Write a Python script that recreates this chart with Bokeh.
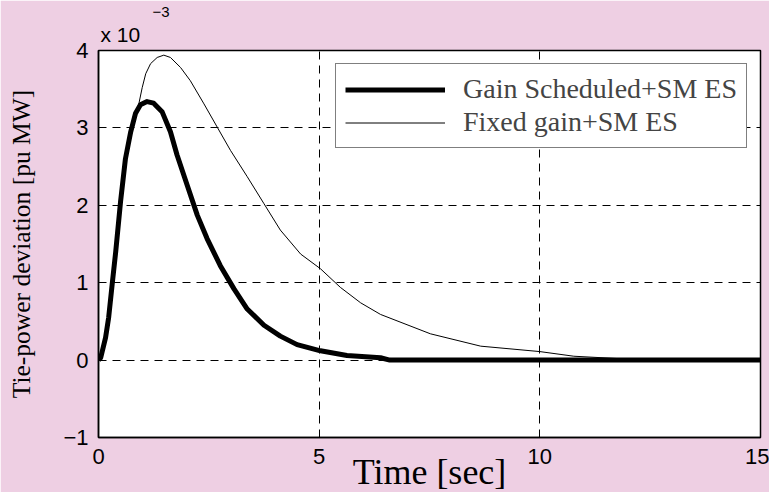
from bokeh.plotting import figure
from bokeh.models import Legend, LegendItem, FixedTicker, Title
from bokeh.embed import file_html
from bokeh.resources import INLINE

# Time [sec] and tie-power deviation (x 10^-3 pu MW)
t_gain = [0.0, 0.05, 0.16, 0.23, 0.31, 0.39, 0.5, 0.61, 0.73, 0.84, 0.95, 1.1, 1.25,
          1.44, 1.63, 1.78, 2.01, 2.24, 2.46, 2.76, 3.07, 3.37, 3.75, 4.12, 4.5,
          5.03, 5.63, 6.39, 6.6, 15.0]
y_gain = [0.0, 0.03, 0.29, 0.55, 0.98, 1.4, 2.05, 2.6, 2.95, 3.19, 3.3, 3.34, 3.32,
          3.21, 2.95, 2.65, 2.26, 1.87, 1.57, 1.22, 0.92, 0.66, 0.45, 0.31, 0.2,
          0.12, 0.06, 0.03, 0.0, 0.0]

t_fixed = [0.0, 0.05, 0.16, 0.23, 0.31, 0.39, 0.5, 0.61, 0.73, 0.84, 0.91, 0.99, 1.07,
           1.18, 1.33, 1.48, 1.63, 1.86, 2.08, 2.39, 2.69, 2.99, 3.37, 3.75, 4.12,
           4.58, 5.03, 5.48, 5.94, 6.39, 7.52, 8.66, 10.0, 10.77, 11.76, 12.5, 15.0]
y_fixed = [0.0, 0.03, 0.29, 0.55, 0.98, 1.4, 2.05, 2.6, 2.95, 3.19, 3.3, 3.52, 3.7,
           3.83, 3.91, 3.94, 3.91, 3.78, 3.61, 3.31, 3.01, 2.71, 2.37, 2.02, 1.68,
           1.37, 1.18, 0.94, 0.74, 0.59, 0.34, 0.18, 0.11, 0.05, 0.02, 0.0, 0.0]

x_ticks = [0, 5, 10, 15]
y_ticks = [-1, 0, 1, 2, 3, 4]
y_tick_labels = {-1: "\u22121", 0: "0", 1: "1", 2: "2", 3: "3", 4: "4"}

PINK = "#EECFE3"
SERIF = "Liberation Serif"
SANS = "Liberation Sans"

p = figure(width=769, height=499, x_range=(0, 15), y_range=(-1, 4),
           output_backend="svg", toolbar_location=None,
           min_border_left=98, min_border_right=9, min_border_top=50, min_border_bottom=62)
p.border_fill_color = PINK
p.background_fill_color = "white"
p.outline_line_color = "black"
p.outline_line_width = 1.5

for ax in (p.xaxis[0], p.yaxis[0]):
    ax.axis_line_color = "black"
    ax.axis_line_width = 1.5
    ax.major_tick_in = 4
    ax.major_tick_out = 0
    ax.minor_tick_line_color = None
    ax.major_label_text_font = SANS
    ax.major_label_text_font_size = "22px"
    ax.major_label_text_color = "black"
    ax.axis_label_text_font = SERIF
    ax.axis_label_text_font_style = "normal"
    ax.axis_label_text_color = "black"

p.xaxis.ticker = FixedTicker(ticks=x_ticks)
p.yaxis.ticker = FixedTicker(ticks=y_ticks)
p.yaxis.major_label_overrides = y_tick_labels
p.xaxis.major_label_standoff = 11
p.yaxis.major_label_standoff = 10
p.xaxis.axis_label = "Time [sec]"
p.xaxis.axis_label_text_font_size = "36px"
p.xaxis.axis_label_standoff = -15
p.yaxis.axis_label = "Tie-power deviation [pu MW]"
p.yaxis.axis_label_text_font_size = "25.5px"
p.yaxis.axis_label_standoff = 24

p.xgrid.ticker = FixedTicker(ticks=x_ticks)
p.ygrid.ticker = FixedTicker(ticks=y_ticks)
for g in (p.xgrid[0], p.ygrid[0]):
    g.grid_line_color = "black"
    g.grid_line_dash = "8 6"
    g.grid_line_width = 1

r_gain = p.line(t_gain, y_gain, line_color="black", line_width=5, line_join="round")
r_fixed = p.line(t_fixed, y_fixed, line_color="black", line_width=1)

legend = Legend(items=[LegendItem(label="Gain Scheduled+SM ES", renderers=[r_gain]),
                       LegendItem(label="Fixed gain+SM ES", renderers=[r_fixed])],
                location="top_right", margin=13, padding=9, spacing=1,
                glyph_width=100, glyph_height=29, label_height=29, label_standoff=18,
                label_text_font=SERIF, label_text_font_size="28px",
                border_line_color="black", border_line_width=1.2,
                background_fill_color="white", background_fill_alpha=1)
p.add_layout(legend)

# "x 10^-3" exponent note above the y axis (superscript is the outer title)
p.title.text = "\u22123"
p.title.align = "left"
p.title.offset = 54
p.title.standoff = 0
p.title.text_font = SANS
p.title.text_font_size = "15px"
p.title.text_font_style = "normal"
p.title.text_color = "black"
p.add_layout(Title(text="x 10", align="left", offset=2, standoff=9,
                   text_font=SANS, text_font_size="21px", text_font_style="normal",
                   text_color="black"), "above")

open("out.html", "w").write(file_html(p, INLINE))
